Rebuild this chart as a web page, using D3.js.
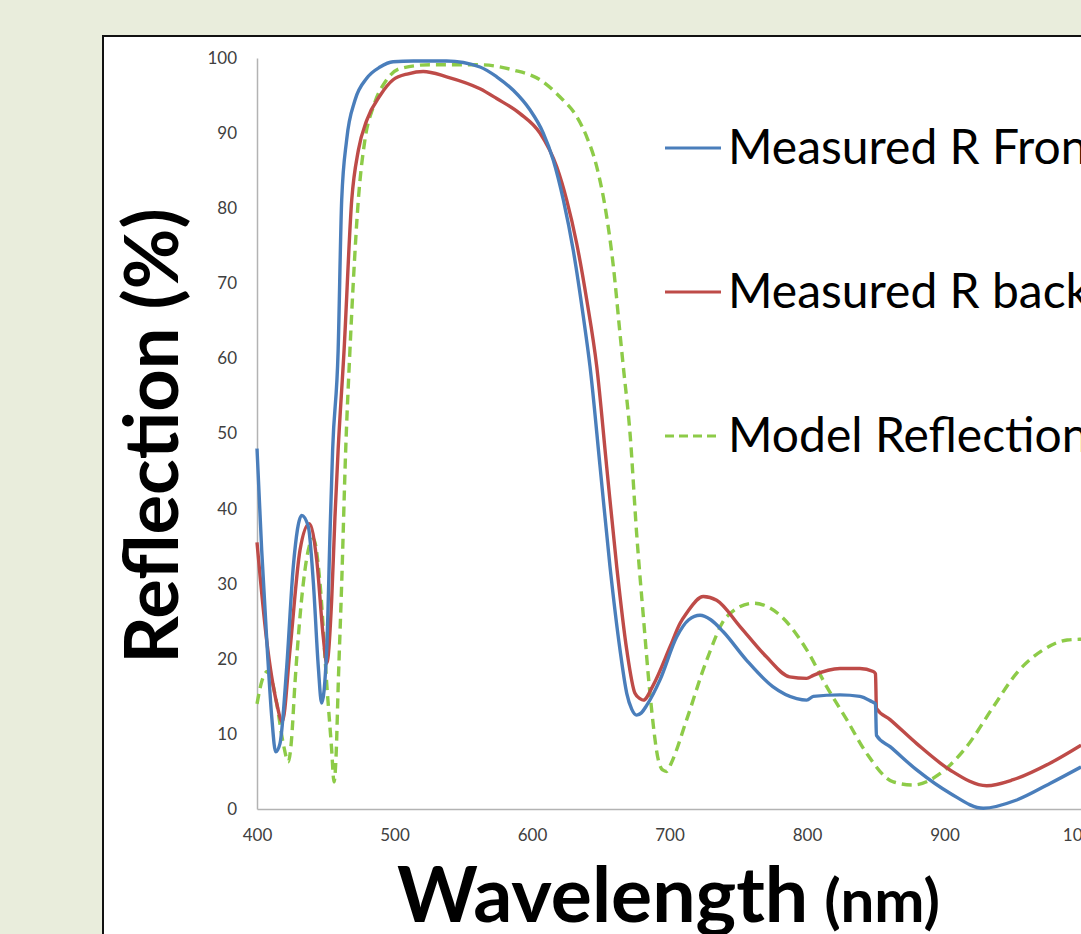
<!DOCTYPE html>
<html>
<head>
<meta charset="utf-8">
<script src="https://cdn.jsdelivr.net/npm/d3@7"></script>
<style>
  html, body { margin: 0; padding: 0; overflow: hidden; background: #e9eddc; }
  #canvas { width: 1081px; height: 934px; }
</style>
</head>
<body>
<div id="canvas"></div>
<script>
// tick labels
var xTicks = [400, 500, 600, 700, 800, 900, 1000];
var yTicks = [0, 10, 20, 30, 40, 50, 60, 70, 80, 90, 100];

// legend labels
var seriesNames = ["Measured R Front", "Measured R back", "Model Reflection"];

// Measured R Front (blue)
var frontWl = [400, 403.4, 407.5, 410.7, 413.6, 416.7, 421.6, 426.4, 432.5, 437.3, 441, 444.6, 447, 450.7, 453.1, 455, 459, 461.6, 465.2, 471.3, 479.8, 489.5, 499, 513.7, 537.9, 562.2, 574.3, 586.4, 598.5, 608.2, 615.5, 622.8, 630, 637.3, 642.2, 649.5, 656.7, 664, 668.9, 672.5, 676.1, 679.5, 683.4, 693.1, 705.2, 714, 722.2, 730, 739.1, 756.1, 775.1, 792.5, 799.8, 804.6, 824, 838.5, 847, 849.8, 850.5, 860.4, 879.8, 904, 928.2, 952.5, 976.7, 999.3];
var frontR  = [48, 34.5, 21.2, 12.3, 7.6, 8.7, 18.9, 32.3, 39.1, 37.6, 30.1, 18.9, 14.1, 21.2, 36.7, 47.8, 61, 81.1, 89.1, 94.4, 97.3, 98.8, 99.5, 99.6, 99.6, 98.8, 97.5, 95.7, 93.1, 90, 86.4, 81.1, 74.4, 65.6, 58.9, 45.6, 32.3, 21.2, 15.4, 13.3, 12.5, 12.8, 13.8, 17.2, 22.9, 25.2, 25.8, 25.2, 23.6, 19.8, 16.3, 14.7, 14.5, 15.0, 15.2, 15.0, 14.3, 14.0, 9.8, 8.3, 5.2, 2.1, 0.1, 1.2, 3.4, 5.6];

// Measured R back (red)
var backWl = [400, 407, 414.3, 418.4, 424, 431.3, 438, 443.4, 448.2, 450.7, 454.3, 456.7, 459, 463.3, 468.9, 473.7, 479.8, 489.5, 499, 510, 520.9, 537.9, 562.2, 574.3, 591.3, 605.8, 618, 625.2, 632.5, 639.8, 647.1, 654.3, 661.6, 668.9, 674.9, 678.5, 681, 688.2, 700.4, 707.6, 712.5, 724.6, 734.3, 751.3, 770.3, 787.3, 799.8, 804.6, 824, 838.5, 848.2, 849.8, 850.5, 860.4, 879.8, 904, 930.7, 950, 976.7, 999.3];
var backR  = [35.5, 22.5, 14.1, 11.6, 21.2, 34.5, 38, 33.2, 22.9, 19.4, 27.8, 38.9, 47.8, 61, 81.1, 87.7, 91.7, 95, 97.1, 97.9, 98.2, 97.5, 95.9, 94.6, 92.6, 90, 85.5, 81.1, 75.3, 67.8, 58.9, 45.6, 32.3, 21.2, 15.4, 14.7, 14.5, 16.5, 21.6, 24.7, 26.1, 28.3, 27.8, 24.3, 20.3, 17.6, 17.4, 17.8, 18.7, 18.7, 18.3, 18.0, 13.4, 11.9, 8.7, 5.2, 3.1, 3.9, 6.1, 8.5];

// Model Reflection (green dashed)
var modelWl = [400, 403.5, 407.5, 411, 414.3, 419.1, 422.8, 425, 427.6, 433.7, 438, 441, 445.8, 450.7, 454.3, 456, 457.5, 459.1, 461.6, 464.5, 467.6, 470, 473.7, 478.5, 484.6, 494.3, 504, 525.8, 562.2, 586.4, 605.8, 620.4, 632.5, 639.8, 647.1, 654.3, 659.2, 664, 666.4, 671.3, 676.1, 681, 685.8, 691.9, 695, 698, 701, 712.5, 727, 741.6, 761, 780.4, 799.8, 814.3, 828.9, 843.4, 862.8, 877.3, 896.7, 916.1, 935.5, 952.5, 971.9, 989.2, 999.3];
var modelR  = [14, 17, 18.3, 17, 14.1, 8.7, 6.3, 9, 16.7, 30.1, 35, 36, 30.1, 16.7, 7.9, 3.6, 7, 16.7, 30.1, 47.8, 61.1, 70, 81.1, 89.1, 93.5, 97.1, 98.6, 99.1, 99.1, 98.4, 97.1, 94.8, 92.2, 89.5, 85.5, 78.9, 72.2, 63.3, 58.9, 50, 36.7, 25.6, 15.4, 6.5, 5.2, 5.0, 6, 11.9, 19.8, 25.6, 27.4, 25.8, 21.2, 16.3, 11.9, 7.4, 3.6, 3.2, 4.7, 8.3, 13.6, 18.1, 21.2, 22.5, 22.6];

var colors = ["#4a7ebb", "#be4b48", "#8dcb48"];

var svg = d3.select('#canvas').append('svg')
  .attr('width', 1081)
  .attr('height', 934);

// white chart area with border, runs off the page
svg.append('rect')
  .attr('x', 103).attr('y', 36)
  .attr('width', 1100).attr('height', 1000)
  .attr('fill', '#ffffff')
  .attr('stroke', '#111111')
  .attr('stroke-width', 2);

var x = d3.scaleLinear().domain([400, 1100]).range([257, 1219.5]);
var y = d3.scaleLinear().domain([0, 100]).range([809, 58]);

// axes: no tick marks, grey lines
var xAxis = svg.append('g')
  .attr('transform', 'translate(0,809)')
  .call(d3.axisBottom(x).tickValues(xTicks).tickFormat(d3.format('d')).tickSize(0).tickPadding(20));
var yAxis = svg.append('g')
  .attr('transform', 'translate(257,0)')
  .call(d3.axisLeft(y).tickValues(yTicks).tickSize(0).tickPadding(20));

[xAxis, yAxis].forEach(function (a) {
  a.select('.domain').attr('stroke', '#b3b3b3').attr('stroke-width', 1.5);
  a.selectAll('text')
    .attr('fill', '#404040')
    .style('font-family', 'Lato, sans-serif')
    .style('font-size', '17px');
});

var line = d3.line()
  .x(function (d) { return x(d[0]); })
  .y(function (d) { return y(d[1]); })
  .curve(d3.curveMonotoneX);

var series = [
  { name: seriesNames[0], wl: frontWl, r: frontR, c: colors[0], dash: null },
  { name: seriesNames[1], wl: backWl,  r: backR,  c: colors[1], dash: null },
  { name: seriesNames[2], wl: modelWl, r: modelR, c: colors[2], dash: '10,6' }
];

// draw model first so the measured curves sit on top
[series[2], series[1], series[0]].forEach(function (s) {
  var pts = s.wl.map(function (w, i) { return [w, s.r[i]]; });
  svg.append('path')
    .datum(pts)
    .attr('d', line)
    .attr('fill', 'none')
    .attr('stroke', s.c)
    .attr('stroke-width', 3.4)
    .attr('stroke-linejoin', 'round')
    .attr('stroke-dasharray', s.dash);
});

// legend
var legend = svg.selectAll('g.legend').data(series)
  .enter().append('g')
  .attr('class', 'legend')
  .attr('transform', function (d, i) { return 'translate(665,' + (148 + i * 144) + ')'; });

legend.append('line')
  .attr('x1', 0).attr('x2', 56)
  .attr('y1', 0).attr('y2', 0)
  .attr('stroke', function (d) { return d.c; })
  .attr('stroke-width', 3)
  .attr('stroke-dasharray', function (d) { return d.dash ? '9,5' : null; });

legend.append('text')
  .attr('x', 63).attr('y', 16)
  .style('font-family', 'Lato, sans-serif')
  .style('font-size', '48px')
  .attr('fill', '#000')
  .text(function (d) { return d.name; });

// axis titles
svg.append('text')
  .attr('transform', 'translate(178,436) rotate(-90)')
  .attr('text-anchor', 'middle')
  .style('font-family', 'Lato, sans-serif')
  .style('font-weight', 'bold')
  .style('font-size', '74px')
  .text('Reflection (%)');

var xt = svg.append('text')
  .attr('x', 397).attr('y', 922)
  .style('font-family', 'Lato, sans-serif')
  .style('font-weight', 'bold');
xt.append('tspan').style('font-size', '77px').text('Wavelength');
xt.append('tspan').style('font-size', '60px').attr('dx', 16).text('(nm)');
</script>
</body>
</html>
